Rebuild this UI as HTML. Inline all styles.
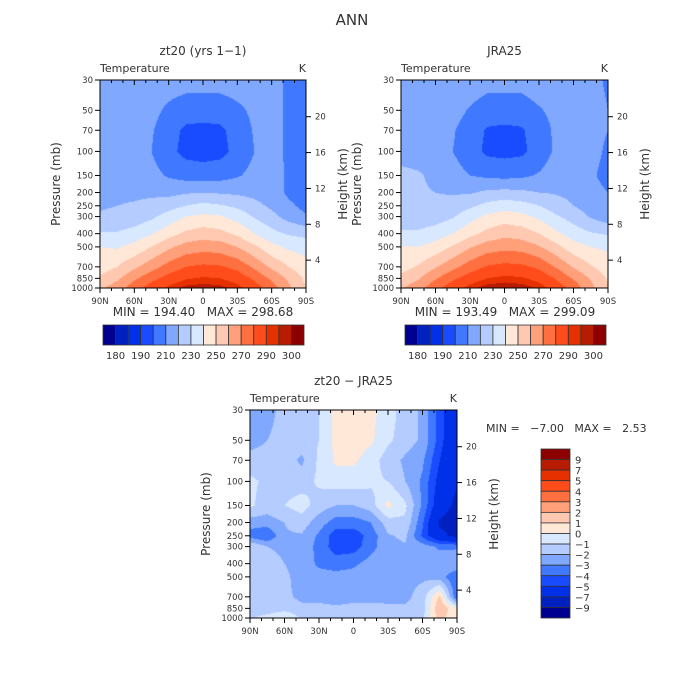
<!DOCTYPE html>
<html><head><meta charset="utf-8">
<style>
html,body{margin:0;padding:0;background:#fff;}
#root{position:relative;width:700px;height:700px;font-family:"DejaVu Sans","Liberation Sans",sans-serif;color:#333;}
svg text{font-family:"DejaVu Sans","Liberation Sans",sans-serif;fill:#333;white-space:pre;}
canvas{position:absolute;}
</style></head>
<body>
<div id="root">
<canvas id="c1" width="206" height="208" style="left:100px;top:80px"></canvas>
<canvas id="c2" width="207" height="208" style="left:401px;top:80px"></canvas>
<canvas id="c3" width="207" height="208" style="left:250px;top:410px"></canvas>
<svg id="svg" width="700" height="700" style="position:absolute;left:0;top:0"></svg>
</div>
<script>
const lats=["90N","75N","60N","45N","30N","15N","0","15S","30S","45S","60S","75S","90S"];
const levels=[1000,850,700,500,400,300,250,200,150,100,70,50,30];
const pTicks=[30,50,70,100,150,200,250,300,400,500,700,850,1000];
const xTickLabels=["90N","60N","30N","0","30S","60S","90S"];
const zTicks=[4,8,12,16,20];
const palette=["#000090","#0020c0","#0030e8","#1a4cff","#4078ff","#80a8ff","#b4ccff","#d8e8ff","#ffe8d8","#ffc8b0","#ffa07a","#ff7040","#ff4c1a","#e63000","#b81c00","#8c0000"];
const tempLevels=[180,185,190,200,210,220,230,240,250,260,270,280,290,295,300];
const tempLabels=["180","190","210","230","250","270","290","300"];
const diffLevels=[-9,-7,-5,-4,-3,-2,-1,0,1,2,3,4,5,7,9];
const diffLabels=["9","7","5","4","3","2","1","0","\u22121","\u22122","\u22123","\u22124","\u22125","\u22127","\u22129"];
const modelT=[
[258,265,276,285,292,297,298,297,293,285,275,262,250],
[252,258,268,277,284,289,291,290,286,278,268,258,248],
[245,250,258,266,274,280,282,281,277,268,258,250,244],
[240,239,243,250,258,264,266,265,260,252,243,238,236],
[231,231,234,239,246,252,255,253,248,240,233,229,227],
[221,222,224,228,234,240,242,241,236,229,223,216,211],
[219,220,221,223,226,230,233,231,228,223,218,212,207],
[217,218,218,218,217,219,220,219,218,217,215,208,205],
[216,217,216,213,209,206,205,206,209,213,215,208,205],
[216,216,214,210,203,197,196,197,203,210,214,208,204],
[216,216,214,211,204,198,197,198,204,211,214,208,204],
[216,216,215,213,208,205,205,205,208,212,214,208,204],
[218,218,217,216,215,214,214,214,215,215,214,208,204]];
const jraT=[
[259,266,277,286,293,298,299,298,294,286,276,263,251],
[253,259,269,278,285,290,292,291,287,279,269,259,249],
[246,251,259,267,275,281,283,282,278,269,259,251,245],
[241,240,244,251,259,265,267,266,261,253,244,240,238],
[232,232,235,240,247,253,257,255,250,242,235,231,229],
[222,223,225,229,236,242,245,243,238,231,226,219,214],
[220,221,222,224,228,233,236,234,230,225,220,215,211],
[222,221,220,219,219,222,223,222,220,219,217,212,210],
[222,221,218,214,210,208,207,208,211,215,216,211,208],
[217,216,214,210,204,198,197,198,204,212,216,212,209],
[217,216,215,211,205,199,198,199,205,212,216,212,210],
[217,217,216,214,209,205,205,205,209,213,216,213,210],
[219,219,218,217,216,214,214,214,216,216,216,212,209]];
const diffT=[
[-1.2,-0.5,0.2,-1.2,-1.5,-1.8,-1.8,-1.5,-1.5,-1.5,-1.2,1.5,0],
[-1.5,-1.8,-1.5,-1.8,-1.8,-1.8,-1.8,-1.8,-1.8,-1.8,-1.5,2,0],
[-1.5,-1.8,-1.8,-2.2,-2.2,-2.5,-2.2,-2.2,-2.3,-2.3,-1.5,1.2,-4],
[-1.5,-1.8,-1.8,-2.4,-2.6,-2.6,-2.6,-2.5,-2.5,-2.3,-2.2,-2.5,-4],
[-1.2,-1.8,-2,-2.4,-3.2,-3.5,-3.2,-2.6,-2.2,-2.2,-2.2,-2.3,-2],
[-1,-2,-2.1,-2.2,-3.4,-4.5,-4.5,-3.4,-2.3,-2.1,-2.5,-3.2,-3.2],
[-3.5,-4,-2.1,-2.1,-3.2,-4.6,-4.6,-3.6,-2.1,-1.8,-4.2,-6.5,-7.5],
[-2.5,-2.5,-2,-1.5,-2.5,-3.5,-3.5,-3,-1.5,-1.2,-3.8,-7.3,-7.8],
[-0.8,-1.5,-1,-0.5,-1.5,-2,-2,-1.5,0.3,-0.8,-3.2,-6,-7.5],
[-0.8,-1.2,-1.5,-1.5,-0.8,-0.5,-0.5,-0.8,-1,-2,-3.2,-5.5,-6.8],
[-1.5,-1.5,-1.5,-2.2,-0.8,0.2,0.2,-0.5,-1.5,-2.2,-2.8,-5,-6.8],
[-2.5,-2,-1.5,-1.5,-1,0.3,0.5,0.2,-0.8,-1.5,-2.2,-4.5,-6.8],
[-2.5,-2.5,-1.5,-1.5,-1,0.3,0.5,0.3,-0.5,-1.5,-2.2,-4.5,-6.5]];

const LR=Math.log(1000/30);
function yOfP(p,top,h){return top+h-Math.log(1000/p)/LR*h;}
function xOfLat(i,n,left,w){return left+i/(n-1)*w;}
function yOfZ(z,top,h){return top+h*(1.0385-z*0.0431);}
function colorFor(v,bounds){let k=0;while(k<bounds.length&&v>=bounds[k])k++;return palette[k];}
function sample(grid,u,lp){
  const n=lats.length;const i0=Math.min(n-2,Math.max(0,Math.floor(u)));const fu=u-i0;
  const L=levels.map(p=>Math.log(1000/p));
  let j0=0;while(j0<levels.length-2&&lp>L[j0+1])j0++;
  const fv=Math.min(1,Math.max(0,(lp-L[j0])/(L[j0+1]-L[j0])));
  const a=grid[j0][i0],b=grid[j0][i0+1],c=grid[j0+1][i0],d=grid[j0+1][i0+1];
  return (a*(1-fu)+b*fu)*(1-fv)+(c*(1-fu)+d*fu)*fv;
}
function drawField(id,grid,bounds){
  const cv=document.getElementById(id);const ctx=cv.getContext('2d');
  const W=cv.width,H=cv.height;
  for(let y=0;y<H;y++){const lp=(H-y-0.5)/H*LR;
    for(let x=0;x<W;x++){const u=(x+0.5)/W*(lats.length-1);
      ctx.fillStyle=colorFor(sample(grid,u,lp),bounds);ctx.fillRect(x,y,1,1);}}
}
drawField('c1',modelT,tempLevels);
drawField('c2',jraT,tempLevels);
drawField('c3',diffT,diffLevels);

const svg=document.getElementById('svg');const NS='http://www.w3.org/2000/svg';
function mk(tag,attrs,name,txt){const e=document.createElementNS(NS,tag);for(const k in attrs)e.setAttribute(k,attrs[k]);
  
  
  if(txt!==undefined)e.textContent=txt;svg.appendChild(e);return e;}

function panel(left,top,w,h,title,pre){
  mk('rect',{x:left,y:top,width:w,height:h,fill:'none',stroke:'#000','stroke-width':1},pre+'-frame');
  mk('text',{x:left+w/2,y:top-25,'text-anchor':'middle','font-size':12},pre+'-title',title);
  mk('text',{x:left,y:top-8,'font-size':11},pre+'-subtitle','Temperature');
  mk('text',{x:left+w,y:top-8,'text-anchor':'end','font-size':11},pre+'-units','K');
  pTicks.forEach(p=>{const y=yOfP(p,top,h);
    mk('line',{x1:left-5,x2:left,y1:y,y2:y,stroke:'#000'},pre+'-ytick');
    mk('text',{x:left-7,y:y+3,'text-anchor':'end','font-size':8.5},pre+'-ytick-label',String(p));});
  xTickLabels.forEach((l,i)=>{const x=xOfLat(i,xTickLabels.length,left,w);
    mk('line',{x1:x,x2:x,y1:top+h,y2:top+h+5,stroke:'#000'},pre+'-xtick');
    mk('line',{x1:x,x2:x,y1:top,y2:top+5,stroke:'#000'},pre+'-xtick-top');
    mk('text',{x:x,y:top+h+16,'text-anchor':'middle','font-size':8.5},pre+'-xtick-label',l);});
  for(let k=1;k<18;k++){if(k%3===0)continue;const x=left+k/18*w;
    mk('line',{x1:x,x2:x,y1:top+h,y2:top+h+3,stroke:'#000'},pre+'-xminor');
    mk('line',{x1:x,x2:x,y1:top,y2:top+3,stroke:'#000'},pre+'-xminor-top');}
  zTicks.forEach(z=>{const y=yOfZ(z,top,h);
    mk('line',{x1:left+w,x2:left+w+5,y1:y,y2:y,stroke:'#000'},pre+'-ztick');
    mk('text',{x:left+w+9,y:y+3,'font-size':8.5},pre+'-ztick-label',String(z));});
  mk('text',{x:0,y:0,transform:`translate(${left-40},${top+h/2}) rotate(-90)`,'text-anchor':'middle','font-size':12,fill:'#555'},pre+'-y-axis-title','Pressure (mb)');
  mk('text',{x:0,y:0,transform:`translate(${left+w+41},${top+h/2}) rotate(-90)`,'text-anchor':'middle','font-size':12,fill:'#555'},pre+'-height-axis-title','Height (km)');
}
mk('text',{x:352,y:25,'text-anchor':'middle','font-size':15,fill:'#555'},'main-title','ANN');
panel(100,80,206,208,'zt20 (yrs 1\u22121)','model');
panel(401,80,207,208,'JRA25','jra');
panel(250,410,207,208,'zt20 \u2212 JRA25','diff');
mk('text',{x:203,y:316,'text-anchor':'middle','font-size':12},'model-minmax','MIN = 194.40   MAX = 298.68');
mk('text',{x:505,y:316,'text-anchor':'middle','font-size':12},'jra-minmax','MIN = 193.49   MAX = 299.09');
mk('text',{x:486,y:432,'font-size':11},'diff-minmax','MIN =   \u22127.00   MAX =   2.53');

function hbar(left,top,w,h,pre){
  const n=palette.length,bw=w/n;
  palette.forEach((c,i)=>mk('rect',{x:left+i*bw,y:top,width:bw,height:h,fill:c,stroke:'#333','stroke-width':0.8},pre+'-colorbar-box'));
  tempLabels.forEach((l,k)=>{const i=k*2+1;const x=left+Math.min(i,n-1)*bw;
    mk('text',{x:x,y:top+h+14,'text-anchor':'middle','font-size':10},pre+'-colorbar-label',l);});
}
hbar(103,325,201,20,'model');
hbar(405,325,201,20,'jra');
(function(){const left=541,top=449,w=29,h=169,n=palette.length,bh=h/n;
  palette.slice().reverse().forEach((c,i)=>mk('rect',{x:left,y:top+i*bh,width:w,height:bh,fill:c,stroke:'#333','stroke-width':0.8},'diff-colorbar-box'));
  diffLabels.forEach((l,i)=>mk('text',{x:left+w+5,y:top+(i+1)*bh+4,'font-size':10},'diff-colorbar-label',l));})();
</script>
</body></html>
